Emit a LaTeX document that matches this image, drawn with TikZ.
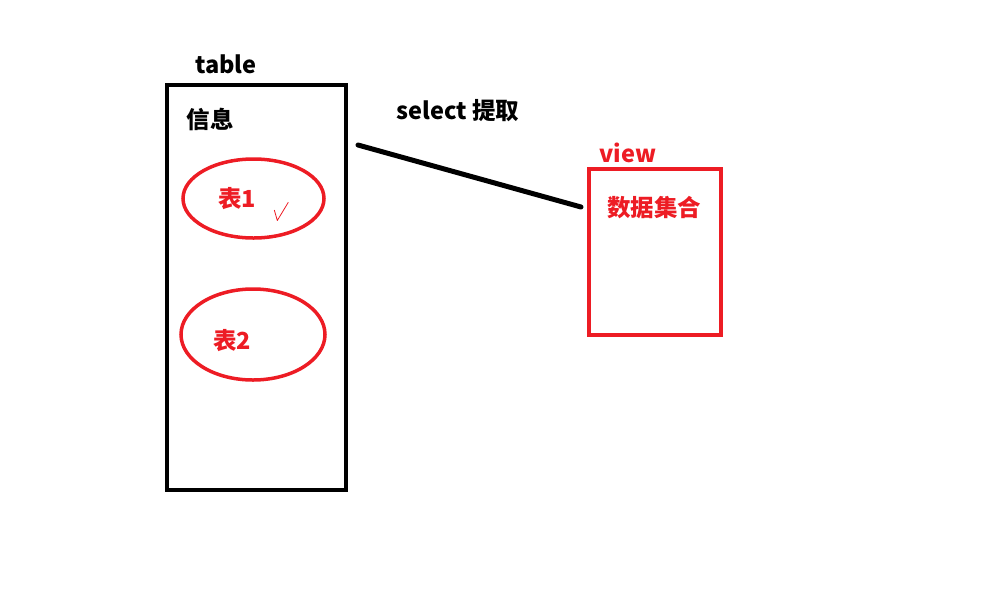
\documentclass[tikz,border=0pt]{standalone}
\usepackage{fontspec}
\setmainfont{Noto Sans CJK SC}
\usetikzlibrary{shapes.geometric}
\definecolor{paintred}{RGB}{237,28,36}
\tikzset{
  lbl/.style={font=\fontsize{23.5}{26}\selectfont\bfseries, inner sep=0pt},
  redlbl/.style={lbl, text=paintred},
  tablebox/.style={draw=black, line width=4pt, minimum width=179pt, minimum height=405pt},
  viewbox/.style={draw=paintred, line width=4pt, minimum width=132pt, minimum height=166pt},
  tab/.style={ellipse, draw=paintred, line width=3.5pt, inner sep=0pt}
}
\begin{document}
\begin{tikzpicture}[x=1pt, y=-1pt]
\useasboundingbox (0,0) rectangle (1006,598);
\path (256,287.5) node (tbl) [tablebox] {};
\path (226,64) node (tbllabel) [lbl] {table};
\path (210,119) node (info) [lbl] {信息};
\path (253.5,198.5) node (tab1) [tab, minimum width=141pt, minimum height=79pt] {};
\path (237,199) node (tab1label) [redlbl] {表1};
\path (253,334.5) node (tab2) [tab, minimum width=144pt, minimum height=91pt] {};
\path (232,341) node (tab2label) [redlbl] {表2};
\path (655,252) node (view) [viewbox] {};
\path (628,153) node (viewlabel) [redlbl] {view};
\path (654,208) node (dataset) [redlbl] {数据集合};
\path (458,111) node (select) [lbl] {select 提取};
% check mark
\draw[paintred, line width=0.8pt, line join=round] (274.3,210) -- (277.3,220.5) -- (288.3,202.3);
% select connector
\coordinate (from) at (358,145);
\coordinate (to) at (581,207);
\draw[line width=5pt, line cap=round] (from) -- (to);
\end{tikzpicture}
\end{document}
